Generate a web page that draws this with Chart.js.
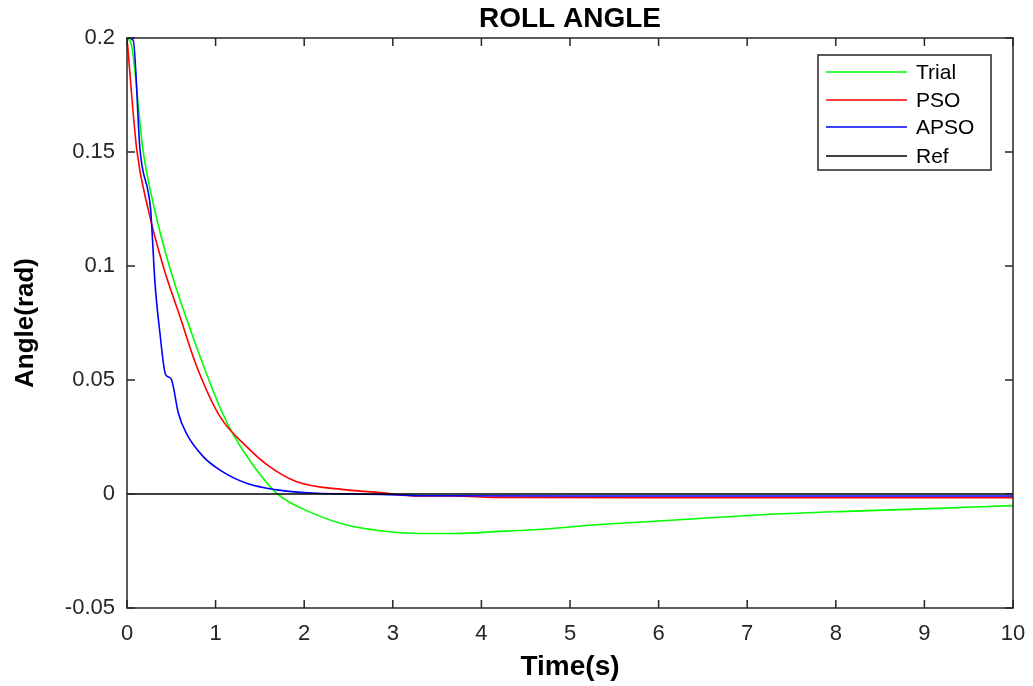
<!DOCTYPE html>
<html>
<head>
<meta charset="utf-8">
<script src="https://cdn.jsdelivr.net/npm/chart.js@4.4.1/dist/chart.umd.min.js"></script>
<style>
  html, body { margin: 0; padding: 0; background: #fff; }
  #rollChart { display: block; }
</style>
</head>
<body>
<canvas id="rollChart" width="1033" height="686"></canvas>
<script>
// Data (time in s, angle in rad)
var trialTime  = [0, 0.05, 0.18, 0.31, 0.48, 0.73, 0.91, 1.06, 1.2, 1.42, 1.69, 2.1, 2.48, 2.86, 3.31, 3.72, 4.17, 4.55, 5.38, 6.32, 7.26, 8.2, 9.14, 10];
var trialAngle = [0.2, 0.197, 0.151, 0.125, 0.0997, 0.0705, 0.0515, 0.037, 0.026, 0.0128, 0.0003, -0.0085, -0.0136, -0.0161, -0.0173, -0.0173, -0.0165, -0.0158, -0.0133, -0.0111, -0.0089, -0.0075, -0.0063, -0.0051];

var psoTime  = [0, 0.11, 0.24, 0.41, 0.598, 0.787, 1.05, 1.35, 1.61, 1.915, 2.48, 2.86, 3.19, 3.7, 4.17, 6, 8, 10];
var psoAngle = [0.2, 0.151, 0.1247, 0.0997, 0.0778, 0.0559, 0.0339, 0.0208, 0.012, 0.0054, 0.0018, 0.0006, -0.0007, -0.0009, -0.0015, -0.0016, -0.0016, -0.0016];

var apsoTime  = [0, 0.07, 0.147, 0.267, 0.28, 0.316, 0.372, 0.43, 0.46, 0.504, 0.58, 0.67, 0.86, 1.05, 1.35, 1.69, 2.14, 2.6, 3.2, 3.3, 5, 7.5, 10];
var apsoAngle = [0.2, 0.199, 0.151, 0.1247, 0.117, 0.0925, 0.0705, 0.053, 0.0515, 0.05, 0.0354, 0.0266, 0.0164, 0.0105, 0.0047, 0.0018, 0.0003, 0.0, -0.0006, -0.0008, -0.0009, -0.0009, -0.0009];

var refTime  = [0, 10];
var refAngle = [0, 0];

var xTicks = [0, 1, 2, 3, 4, 5, 6, 7, 8, 9, 10];
var xTickLabels = ['0', '1', '2', '3', '4', '5', '6', '7', '8', '9', '10'];
var yTicks = [-0.05, 0, 0.05, 0.1, 0.15, 0.2];
var yTickLabels = ['-0.05', '0', '0.05', '0.1', '0.15', '0.2'];

var seriesNames = ['Trial', 'PSO', 'APSO', 'Ref'];
var seriesColors = ['#00ff00', '#ff0000', '#0000ff', '#000000'];
var chartTitle = 'ROLL ANGLE';

function toPoints(t, v) {
    return t.map(function (x, i) { return { x: x, y: v[i] }; });
}

function labelFor(ticks, labels, value) {
    var i = ticks.findIndex(function (t) { return Math.abs(t - value) < 1e-9; });
    return i >= 0 ? labels[i] : '';
}

var axisGray = '#262626';
var fontFamily = '"Liberation Sans", Arial, Helvetica, sans-serif';

// Box around the plot with inward tick marks on all four sides (MATLAB style)
var boxPlugin = {
    id: 'boxPlugin',
    afterDatasetsDraw: function (chart) {
        var ctx = chart.ctx, a = chart.chartArea;
        var xs = chart.scales.x, ys = chart.scales.y;
        var tick = 8;
        ctx.save();
        ctx.strokeStyle = axisGray;
        ctx.lineWidth = 1.5;
        ctx.strokeRect(a.left, a.top, a.right - a.left, a.bottom - a.top);
        ctx.beginPath();
        xs.ticks.forEach(function (t) {
            var px = xs.getPixelForValue(t.value);
            ctx.moveTo(px, a.bottom); ctx.lineTo(px, a.bottom - tick);
            ctx.moveTo(px, a.top); ctx.lineTo(px, a.top + tick);
        });
        ys.ticks.forEach(function (t) {
            var py = ys.getPixelForValue(t.value);
            ctx.moveTo(a.left, py); ctx.lineTo(a.left + tick, py);
            ctx.moveTo(a.right, py); ctx.lineTo(a.right - tick, py);
        });
        ctx.stroke();

        // title centred over the axes, not the canvas
        ctx.fillStyle = '#000';
        ctx.font = 'bold 28px ' + fontFamily;
        ctx.textAlign = 'center';
        ctx.textBaseline = 'middle';
        ctx.fillText(chartTitle, (a.left + a.right) / 2, 19);
        ctx.restore();
    }
};

// Legend box drawn inside the plot, top right
var insideLegend = {
    id: 'insideLegend',
    afterDraw: function (chart) {
        var ctx = chart.ctx;
        var bx = 818, by = 55, bw = 173, bh = 115;
        var rowY = [72, 100, 127, 156];
        ctx.save();
        ctx.fillStyle = '#fff';
        ctx.fillRect(bx, by, bw, bh);
        ctx.strokeStyle = axisGray;
        ctx.lineWidth = 1.5;
        ctx.strokeRect(bx, by, bw, bh);
        ctx.font = '21px ' + fontFamily;
        ctx.textBaseline = 'middle';
        ctx.textAlign = 'left';
        chart.data.datasets.forEach(function (ds, i) {
            ctx.strokeStyle = ds.borderColor;
            ctx.lineWidth = 1.5;
            ctx.beginPath();
            ctx.moveTo(826, rowY[i]);
            ctx.lineTo(907, rowY[i]);
            ctx.stroke();
            ctx.fillStyle = '#000';
            ctx.fillText(ds.label, 916, rowY[i] + 1);
        });
        ctx.restore();
    }
};

var ctxRoll = document.getElementById('rollChart').getContext('2d');
var rollChart = new Chart(ctxRoll, {
    type: 'line',
    data: {
        datasets: [
            { label: seriesNames[0], data: toPoints(trialTime, trialAngle), borderColor: seriesColors[0], order: 3 },
            { label: seriesNames[1], data: toPoints(psoTime, psoAngle), borderColor: seriesColors[1], order: 2 },
            { label: seriesNames[2], data: toPoints(apsoTime, apsoAngle), borderColor: seriesColors[2], order: 1 },
            { label: seriesNames[3], data: toPoints(refTime, refAngle), borderColor: seriesColors[3], order: 0, cubicInterpolationMode: 'default' }
        ]
    },
    options: {
        responsive: false,
        animation: false,
        devicePixelRatio: 1,
        layout: { padding: { left: 0, right: 20, top: 38, bottom: 0 } },
        elements: {
            point: { radius: 0 },
            line: { borderWidth: 1.6, fill: false, cubicInterpolationMode: 'monotone' }
        },
        plugins: {
            legend: { display: false },
            tooltip: { enabled: false },
            title: { display: false }
        },
        scales: {
            x: {
                type: 'linear',
                min: 0,
                max: 10,
                afterBuildTicks: function (s) { s.ticks = xTicks.map(function (v) { return { value: v }; }); },
                afterFit: function (s) {
                    s.height = 78;
                    s.paddingLeft = 0;
                    s.paddingRight = 0;
                },
                grid: { display: false, drawTicks: false },
                border: { display: false },
                ticks: {
                    color: axisGray,
                    padding: 13,
                    maxRotation: 0,
                    font: { family: fontFamily, size: 22 },
                    callback: function (v) { return labelFor(xTicks, xTickLabels, v); }
                },
                title: {
                    display: true,
                    text: 'Time(s)',
                    color: '#000',
                    font: { family: fontFamily, size: 28, weight: 'bold' },
                    padding: { top: 0, bottom: 2 }
                }
            },
            y: {
                type: 'linear',
                min: -0.05,
                max: 0.2,
                afterBuildTicks: function (s) { s.ticks = yTicks.map(function (v) { return { value: v }; }); },
                afterFit: function (s) {
                    s.width = 127;
                    s.paddingTop = 0;
                    s.paddingBottom = 0;
                },
                grid: { display: false, drawTicks: false },
                border: { display: false },
                ticks: {
                    color: axisGray,
                    padding: 12,
                    font: { family: fontFamily, size: 22 },
                    callback: function (v) { return labelFor(yTicks, yTickLabels, v); }
                },
                title: {
                    display: true,
                    text: 'Angle(rad)',
                    color: '#000',
                    font: { family: fontFamily, size: 26, weight: 'bold' },
                    padding: { top: 10, bottom: 0 }
                }
            }
        }
    },
    plugins: [boxPlugin, insideLegend]
});
</script>
</body>
</html>
